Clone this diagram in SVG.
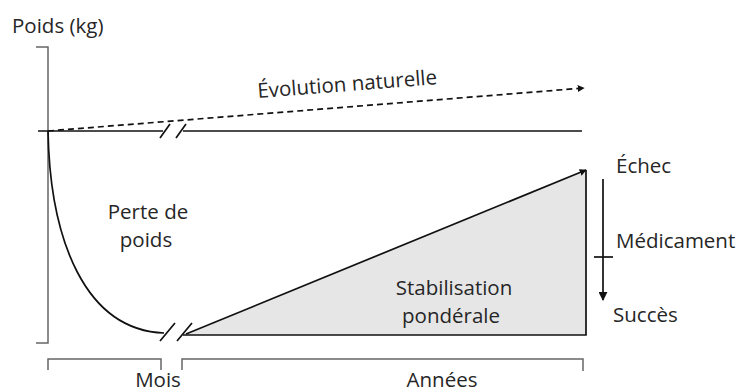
<svg xmlns="http://www.w3.org/2000/svg" width="739" height="392" viewBox="0 0 739 392">
<style>
text{font-family:"Open Sans","Liberation Sans",sans-serif;font-size:20.5px;fill:#262626}
.ln{stroke:#111;stroke-width:1.7;fill:none}
.br{stroke:#666;stroke-width:1.5;fill:none}
.mid{text-anchor:middle}
</style>
<defs>
<marker id="ah" viewBox="0 0 10 10" refX="9" refY="5" markerWidth="7" markerHeight="7" markerUnits="userSpaceOnUse" orient="auto">
<path d="M0,0 L10,5 L0,10 z" fill="#111"/>
</marker>
<marker id="ah2" viewBox="0 0 10 10" refX="9" refY="5" markerWidth="9" markerHeight="9" markerUnits="userSpaceOnUse" orient="auto">
<path d="M0,0 L10,5 L0,10 z" fill="#111"/>
</marker>
</defs>
<g id="axes">
<path class="br" d="M36,47 H48 V343 H36"/>
<text x="12" y="33">Poids (kg)</text>
</g>
<g id="time-brackets">
<path class="br" d="M48,370 V359 H161 V370"/>
<path class="br" d="M182,370 V359 H583 V371"/>
<text class="mid" x="158" y="386.5">Mois</text>
<text class="mid" x="442" y="386.5">Années</text>
</g>
<g id="stabilisation">
<polygon points="183,335 586,170 586,335" fill="#e6e6e6" stroke="none"/>
<path class="ln" d="M183,335 H586 V170"/>
<text class="mid" x="454" y="295">Stabilisation</text>
<text class="mid" x="451" y="323">pondérale</text>
</g>
<g id="perte">
<text class="mid" x="148" y="219">Perte de</text>
<text class="mid" x="146" y="247">poids</text>
</g>
<g id="evolution">
<text x="258" y="98" transform="rotate(-4.4 258 98)">Évolution naturelle</text>
</g>
<g id="medicament">
<text x="616" y="173">Échec</text>
<text x="616" y="248">Médicament</text>
<text x="613" y="322">Succès</text>
</g>
<g id="connectors">
<path class="ln" d="M38,131 H163"/>
<path class="ln" d="M183,131 H582"/>
<path class="ln" d="M160,138 L170,124 M176,138 L186,124"/>
<path class="ln" stroke-dasharray="6,4" stroke-width="1.5" d="M48,131 L584,88" marker-end="url(#ah)"/>
<path class="ln" d="M48,131 C50,240 85,330 164,333"/>
<path class="ln" d="M160,341 L175,323 M177,341 L192,323"/>
<path class="ln" d="M186,334 L586,170" marker-end="url(#ah)"/>
<path class="ln" d="M603,179 V300" marker-end="url(#ah2)"/>
<path class="ln" d="M594,257 H613"/>
</g>
</svg>
